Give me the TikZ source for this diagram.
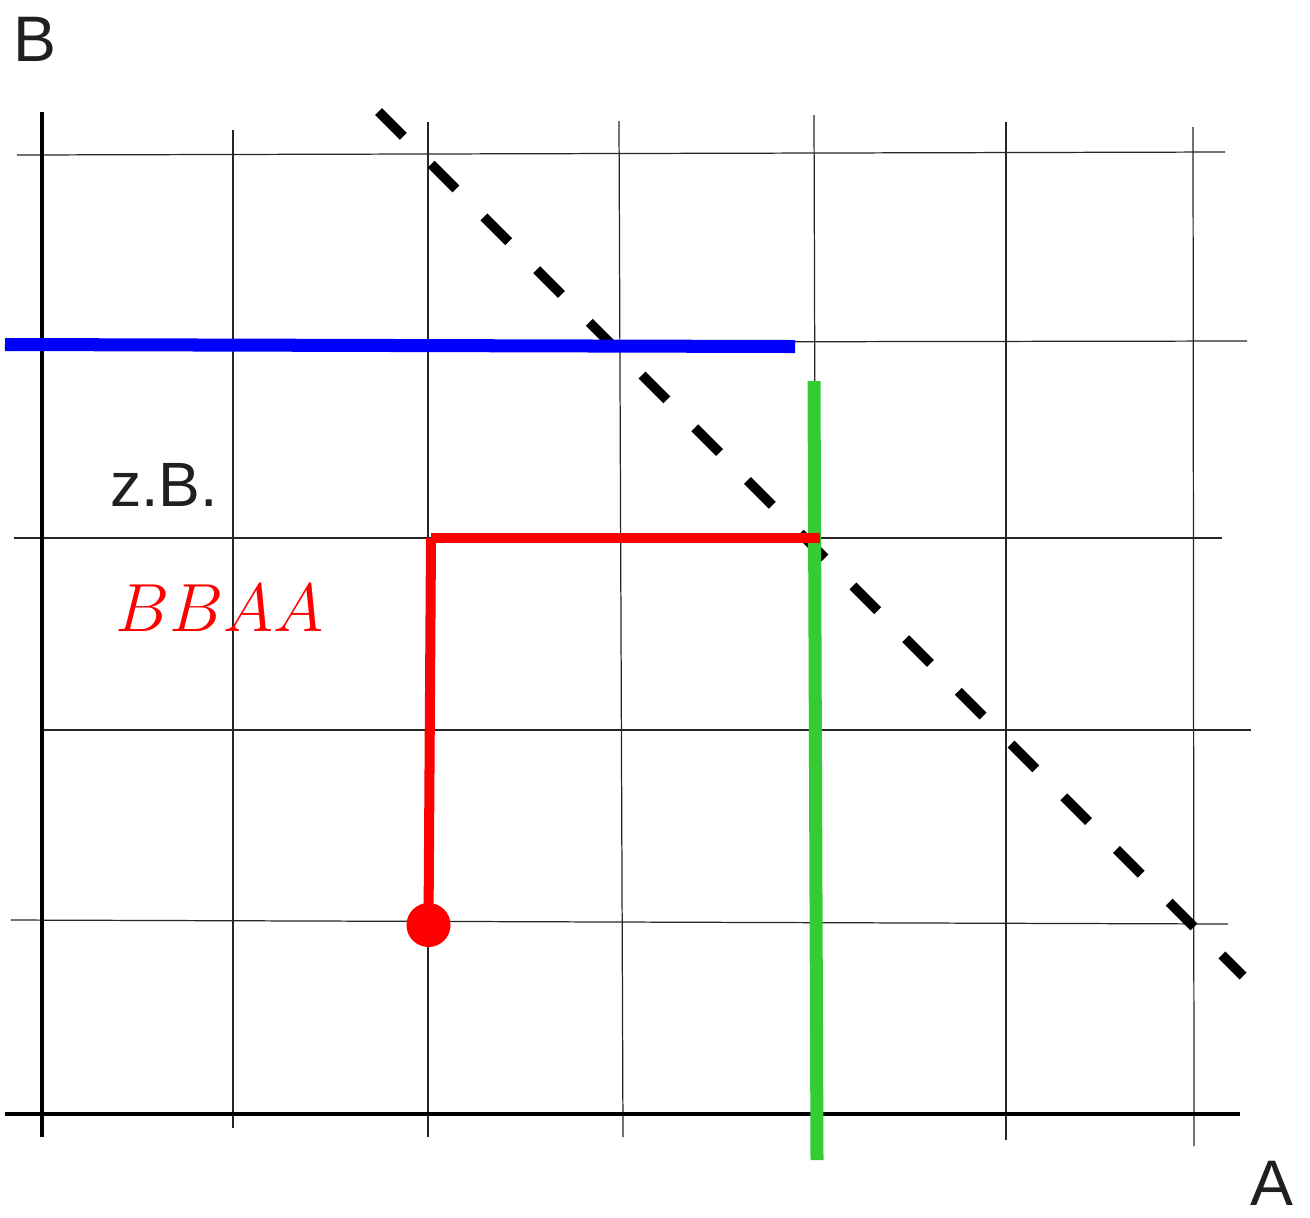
\documentclass[tikz,border=0pt]{standalone}
\usepackage{fontspec}
\newfontfamily\labelfont{Liberation Sans}
\definecolor{inkblack}{RGB}{35,31,32}
\definecolor{pathred}{RGB}{255,0,0}
\definecolor{limitblue}{RGB}{0,0,255}
\definecolor{limitgreen}{RGB}{51,204,51}

\begin{document}
\begin{tikzpicture}[x=0.01cm,y=-0.01cm,
  every node/.style={font=\labelfont\fontsize{18.3}{22}\selectfont,
    text=inkblack,inner sep=0pt},
  gridline/.style={line width=0.35pt,draw=black!85},
  axisline/.style={line width=0.9pt,draw=black},
  walkline/.style={line width=2.85pt,draw=pathred},
  limitline/.style={line width=3.7pt}]
  \useasboundingbox (0,0) rectangle (1310,1217);

  % grid, drawn by hand
  \draw[gridline] (233,130) -- (233,1128);
  \draw[gridline] (428,122) -- (428,1137);
  \draw[gridline] (619,121) -- (623,1137);
  \draw[gridline] (814,115) -- (817,1137);
  \draw[gridline] (1006,122) -- (1006,1140);
  \draw[gridline] (1193,127) -- (1194,1146);
  \draw[gridline] (17,155) -- (1225,152);
  \draw[gridline] (10,343) -- (1247,341);
  \draw[gridline] (14,538) -- (1222,538);
  \draw[gridline] (42,730) -- (1251,730);
  \draw[gridline] (11,920) -- (1228,924);

  % axes
  \coordinate (origin) at (42,1114);
  \coordinate (btop) at (42,112);
  \coordinate (bfoot) at (42,1137);
  \coordinate (aleft) at (5,1114);
  \coordinate (aright) at (1240,1114);
  \draw[axisline] (bfoot) -- (btop);
  \draw[axisline] (aleft) -- (aright);
  \node (blabel) at (35,39) {B};
  \node (alabel) at (1272,1183) {A};

  % diagonal
  \coordinate (diagtop) at (378.5,111.5);
  \coordinate (diagend) at (1243,976);
  \draw[line width=2.8pt,dash pattern=on 0.35cm off 0.395cm]
    (diagtop) -- (diagend);

  % limits
  \coordinate (blueleft) at (5,344.5);
  \coordinate (blueright) at (795,346.5);
  \draw[limitline,limitblue] (blueleft) -- (blueright);
  \coordinate (greentop) at (814,381);
  \coordinate (greenfoot) at (817,1160);
  \draw[limitline,limitgreen] (greentop) -- (greenfoot);

  % example path
  \coordinate (walkstart) at (428.5,925);
  \coordinate (walkturn) at (431,538);
  \coordinate (walkstop) at (820,538);
  \draw[walkline] (walkstart) -- (walkturn);
  \draw[walkline] (walkturn) -- (walkstop);
  \fill[pathred] (walkstart) circle[radius=0.22cm];

  \node[font=\labelfont\fontsize{17.8}{22}\selectfont] (zb) at (164,485) {z.B.};
  \node[font=\fontsize{19.2}{23}\selectfont,text=pathred,scale=0.935,
    transform shape] (word) at (220,608) {$BBAA$};
\end{tikzpicture}
\end{document}
